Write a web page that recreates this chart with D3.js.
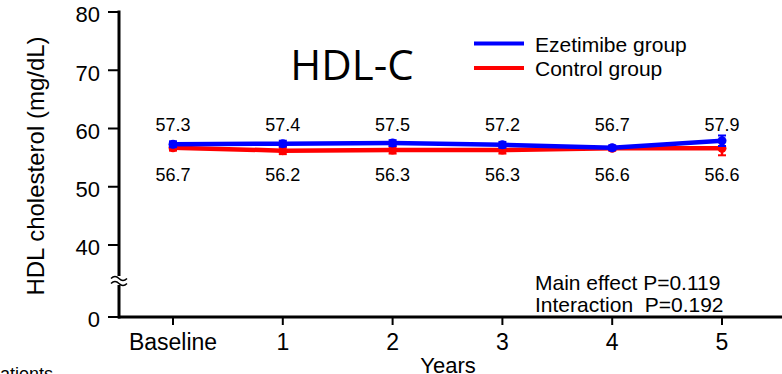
<!DOCTYPE html>
<html>
<head>
<meta charset="utf-8">
<script src="https://cdn.jsdelivr.net/npm/d3@7"></script>
<style>
  body { margin: 0; background: #fff; }
  svg { display: block; font-family: "Liberation Sans", Arial, sans-serif; }
  .stat { white-space: pre; }
</style>
</head>
<body>
<svg width="782" height="374"></svg>
<script>
const categories = ["Baseline", "1", "2", "3", "4", "5"];
const ezetimibe = [57.3, 57.4, 57.5, 57.2, 56.7, 57.9];
const ezetimibeErr = [0.5, 0.5, 0.5, 0.5, 0.4, 0.9];
const control = [56.7, 56.2, 56.3, 56.3, 56.6, 56.6];
const controlErr = [0.5, 0.6, 0.6, 0.6, 0.4, 1.2];
const yTicks = [0, 40, 50, 60, 70, 80];
const seriesNames = ["Ezetimibe group", "Control group"];
const stats = ["Main effect P=0.119", "Interaction  P=0.192"];

const svg = d3.select("svg");

const x = d3.scalePoint()
    .domain(categories)
    .range([173, 722]);

// broken axis: 0 sits below the break, 40-80 linear
const y = d3.scaleLinear()
    .domain([0, 40, 80])
    .range([317, 245, 12]);

// y axis
svg.append("line")
    .attr("x1", 119).attr("x2", 119)
    .attr("y1", 10.5).attr("y2", 318.5)
    .attr("stroke", "#000").attr("stroke-width", 3);

svg.selectAll("line.ytick")
    .data(yTicks)
    .enter().append("line")
    .attr("class", "ytick")
    .attr("x1", 108).attr("x2", 119)
    .attr("y1", d => y(d)).attr("y2", d => y(d))
    .attr("stroke", "#000").attr("stroke-width", 2);

svg.selectAll("text.ylab")
    .data(yTicks)
    .enter().append("text")
    .attr("class", "ylab")
    .attr("x", 100)
    .attr("y", d => y(d))
    .attr("dy", "0.47em")
    .attr("text-anchor", "end")
    .attr("font-size", 22)
    .text(d => d);

// break mark
svg.append("rect")
    .attr("x", 110).attr("y", 276).attr("width", 18).attr("height", 9)
    .attr("fill", "#fff");
[-2.5, 2.5].forEach(function (off) {
    svg.append("path")
        .attr("d", "M111," + (281 + off) + " q4,-4 8,0 t8,0")
        .attr("fill", "none").attr("stroke", "#000").attr("stroke-width", 1.5);
});

// x axis
svg.append("line")
    .attr("x1", 118).attr("x2", 782)
    .attr("y1", 317).attr("y2", 317)
    .attr("stroke", "#000").attr("stroke-width", 3);

svg.selectAll("line.xtick")
    .data(categories)
    .enter().append("line")
    .attr("class", "xtick")
    .attr("x1", d => x(d)).attr("x2", d => x(d))
    .attr("y1", 317).attr("y2", 325)
    .attr("stroke", "#000").attr("stroke-width", 2);

svg.selectAll("text.xlab")
    .data(categories)
    .enter().append("text")
    .attr("class", "xlab")
    .attr("x", d => x(d))
    .attr("y", 350)
    .attr("text-anchor", "middle")
    .attr("font-size", 23)
    .text(d => d);

svg.append("text")
    .attr("x", 448).attr("y", 373)
    .attr("text-anchor", "middle")
    .attr("font-size", 22)
    .text("Years");

svg.append("text")
    .attr("transform", "translate(44,166) rotate(-90)")
    .attr("text-anchor", "middle")
    .attr("font-size", 24)
    .text("HDL cholesterol (mg/dL)");

// cut-off footnote at bottom left
svg.append("text")
    .attr("x", -10).attr("y", 380)
    .attr("font-size", 18)
    .text("patients");

// title
svg.append("text")
    .attr("x", 352).attr("y", 80)
    .attr("text-anchor", "middle")
    .attr("font-family", "'Open Sans', 'DejaVu Sans', sans-serif")
    .attr("font-size", 42)
    .text("HDL-C");

// legend
const legendColors = ["#0000ff", "#ff0000"];
seriesNames.forEach(function (name, i) {
    svg.append("line")
        .attr("x1", 474).attr("x2", 524)
        .attr("y1", 43.5 + i * 24.5).attr("y2", 43.5 + i * 24.5)
        .attr("stroke", legendColors[i]).attr("stroke-width", 4);
    svg.append("text")
        .attr("x", 535).attr("y", 51.5 + i * 24.5)
        .attr("font-size", 21)
        .text(name);
});

// stats
stats.forEach(function (s, i) {
    svg.append("text")
        .attr("class", "stat")
        .attr("x", 535).attr("y", 290 + i * 21.5)
        .attr("font-size", 21)
        .text(s);
});

// series
const line = d3.line()
    .x((d, i) => x(categories[i]))
    .y(d => y(d));

function drawSeries(values, errs, color) {
    const g = svg.append("g");
    g.append("path")
        .datum(values)
        .attr("d", line)
        .attr("fill", "none")
        .attr("stroke", color)
        .attr("stroke-width", 4.5);
    values.forEach(function (v, i) {
        const cx = x(categories[i]);
        g.append("line")
            .attr("x1", cx).attr("x2", cx)
            .attr("y1", y(v + errs[i])).attr("y2", y(v - errs[i]))
            .attr("stroke", color).attr("stroke-width", 2.5);
        [v + errs[i], v - errs[i]].forEach(function (e) {
            g.append("line")
                .attr("x1", cx - 4).attr("x2", cx + 4)
                .attr("y1", y(e)).attr("y2", y(e))
                .attr("stroke", color).attr("stroke-width", 2);
        });
        g.append("circle")
            .attr("cx", cx).attr("cy", y(v))
            .attr("r", 4.5)
            .attr("fill", color);
    });
}

drawSeries(control, controlErr, "#ff0000");
drawSeries(ezetimibe, ezetimibeErr, "#0000ff");

svg.selectAll("text.ezlab")
    .data(ezetimibe)
    .enter().append("text")
    .attr("class", "ezlab")
    .attr("x", (d, i) => x(categories[i]))
    .attr("y", 130.5)
    .attr("text-anchor", "middle")
    .attr("font-size", 18)
    .text(d => d.toFixed(1));

svg.selectAll("text.ctlab")
    .data(control)
    .enter().append("text")
    .attr("class", "ctlab")
    .attr("x", (d, i) => x(categories[i]))
    .attr("y", 181)
    .attr("text-anchor", "middle")
    .attr("font-size", 18)
    .text(d => d.toFixed(1));
</script>
</body>
</html>
